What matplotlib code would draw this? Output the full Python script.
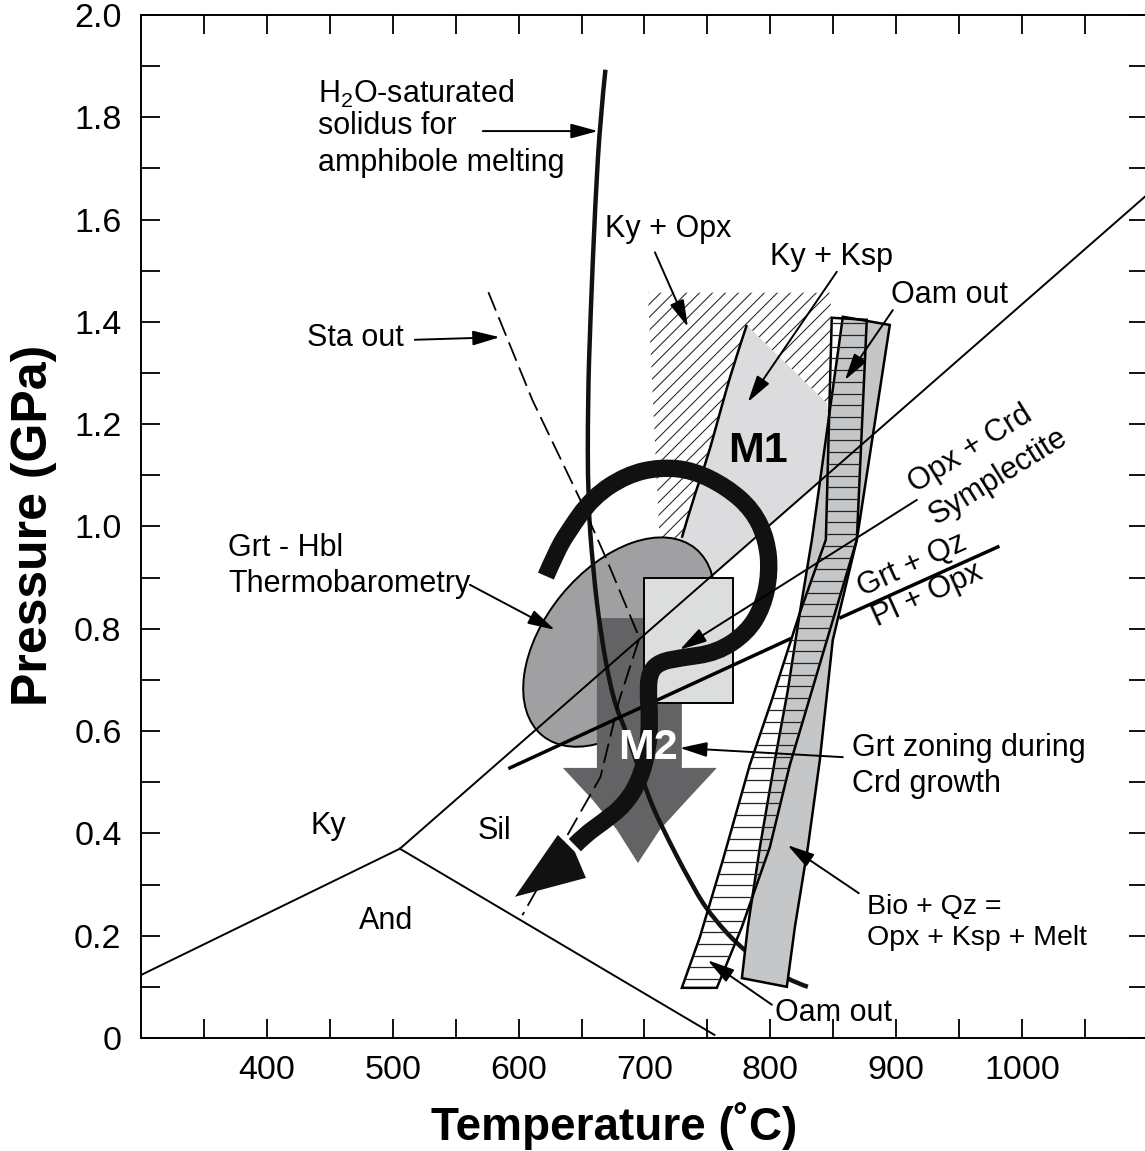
#!/usr/bin/env python3
"""
P-T 图: M1 -> M2 路径与反应线
"""
import numpy as np
import matplotlib
matplotlib.use('Agg')
import matplotlib.pyplot as plt
from matplotlib import transforms
from matplotlib.path import Path
from matplotlib.patches import Polygon, Rectangle, Ellipse, PathPatch
from matplotlib.ticker import FixedLocator, FuncFormatter

plt.rcParams['font.family'] = ['Liberation Sans', 'DejaVu Sans']
plt.rcParams['mathtext.default'] = 'regular'

# ---- 坐标范围 / 刻度 ----
T_MIN, T_MAX = 300, 1100
P_MIN, P_MAX = 0.0, 2.0
x_major = [400, 500, 600, 700, 800, 900, 1000]
x_minor = [350, 450, 550, 650, 750, 850, 950, 1050]
y_major = [0.0, 0.2, 0.4, 0.6, 0.8, 1.0, 1.2, 1.4, 1.6, 1.8, 2.0]
y_minor = [0.1, 0.3, 0.5, 0.7, 0.9, 1.1, 1.3, 1.5, 1.7, 1.9]

# ---- 数据 (T in C, P in GPa) ----
# Al2SiO5
ky_and_T = [300, 505.7]
ky_and_P = [0.123, 0.370]
and_sil_T = [505.7, 755.6]
and_sil_P = [0.370, 0.006]
ky_sil_T = [505.7, 1100]
ky_sil_P = [0.370, 1.650]

# H2O-saturated solidus
solidus_T = [669, 665, 661, 657, 655, 655, 659, 665, 675, 686, 702, 712.2, 738.4,
             753.5, 779.7, 813.9, 829.8]
solidus_P = [1.893, 1.800, 1.638, 1.404, 1.247, 1.052, 0.920, 0.792, 0.661, 0.596,
             0.479, 0.420, 0.295, 0.237, 0.168, 0.113, 0.100]

# Sta out
sta_T = [576, 611, 649, 670, 696, 680, 665, 638, 603]
sta_P = [1.458, 1.247, 1.052, 0.935, 0.782, 0.661, 0.510, 0.393, 0.240]

# Grt + Qz = Pl + Opx (两段, 中间被带遮住)
grt_qz_T1 = [593.1, 815.5]
grt_qz_P1 = [0.528, 0.780]
grt_qz_T2 = [856.0, 980.7]
grt_qz_P2 = [0.822, 0.960]

# Ky + Opx 斜线区
kyopx_T = [702.7, 848.0, 848.0, 736.1, 712.2]
kyopx_P = [1.457, 1.457, 1.110, 0.935, 0.964]

# M1 区
m1_T = [781.3, 844.9, 851.2, 744.0, 721.8, 728.1, 738.4, 759.9]
m1_P = [1.394, 1.241, 1.110, 0.880, 0.935, 0.974, 1.052, 1.222]
m1_edge_T = [781.3, 770.2, 759.9, 749.6, 738.4, 729.7]
m1_edge_P = [1.394, 1.312, 1.222, 1.130, 1.052, 0.978]

# Grt - Hbl 椭圆 (中心, 半轴以 C 计, 角度)
ell_T, ell_P = 679.7, 0.774
ell_a, ell_b, ell_angle = 96.0, 59.0, 50.7

# M2 下降箭头
m2_T = [662.2, 729.7, 729.7, 757.5, 733.7, 712.2, 694.8, 678.1, 659.0, 635.2, 662.2]
m2_P = [0.821, 0.821, 0.528, 0.528, 0.465, 0.407, 0.342, 0.407, 0.465, 0.528, 0.528]

# Opx + Crd 后成合晶框
sym_T = [699.5, 770.2]
sym_P = [0.655, 0.899]

# Bio + Qz = Opx + Ksp + Melt 灰带
bio_T = [857.6, 894.9, 868.7, 849.6, 839.3, 829.8, 819.5, 813.1,
         777.4, 782.1, 791.7, 803.6, 813.9, 823.4, 833.0]
bio_P = [1.410, 1.394, 0.974, 0.778, 0.543, 0.373, 0.217, 0.100,
         0.117, 0.217, 0.373, 0.543, 0.680, 0.831, 0.974]

# Oam out 横线带
oam_T = [848.8, 844.1, 823.4, 801.2, 783.7, 762.3, 744.0, 729.7,
         757.5, 777.4, 799.6, 815.5, 850.4, 868.7, 876.6]
oam_P = [1.408, 0.974, 0.831, 0.661, 0.534, 0.348, 0.197, 0.098,
         0.098, 0.217, 0.373, 0.534, 0.823, 0.974, 1.404]

# P-T 路径
path_T = [621.7, 629.6, 638.4, 659.0, 686.0, 712.2, 738.4, 765.4, 786.1, 797.2, 799.6,
          794.0, 781.3, 757.5, 728.1, 712.2, 704.3, 702.7, 704.3, 702.7, 696.3, 684.4,
          667.0, 652.7, 644.7]
path_P = [0.903, 0.948, 0.987, 1.058, 1.101, 1.116, 1.110, 1.077, 1.032, 0.974, 0.909,
          0.843, 0.792, 0.753, 0.743, 0.735, 0.716, 0.680, 0.622, 0.563, 0.504, 0.456,
          0.422, 0.397, 0.377]
head_T = [597.1, 631.2, 644.7, 653.5]
head_P = [0.276, 0.397, 0.364, 0.313]

# 指示箭头 (起点 -> 终点)
arr_T0 = [571.6, 517.6, 708.3, 852.8, 897.3, 561.3, 916.4, 857.6, 870.3, 801.2]
arr_P0 = [1.773, 1.365, 1.536, 1.498, 1.423, 0.886, 1.052, 0.549, 0.283, 0.065]
arr_T1 = [663.0, 585.1, 734.5, 782.1, 859.2, 628.8, 728.1, 728.1, 813.7, 750.2]
arr_P1 = [1.773, 1.370, 1.390, 1.243, 1.286, 0.798, 0.759, 0.567, 0.377, 0.152]

# 文字标签
lab_text = ['H$_2$O-saturated', 'solidus for', 'amphibole melting',
            'Grt - Hbl', 'Thermobarometry', 'Grt zoning during', 'Crd growth']
lab_T = [440.6, 440.6, 440.6, 369.1, 369.1, 864.7, 864.7]
lab_P = [1.846, 1.782, 1.710, 0.958, 0.888, 0.567, 0.497]

ctr_text = ['Sta out', 'Ky + Opx', 'Ky + Ksp', 'Oam out', 'Oam out', 'Ky', 'Sil', 'And']
ctr_T = [470.4, 718.6, 848.8, 942.6, 850.2, 448.5, 581.2, 494.6]
ctr_P = [1.369, 1.581, 1.527, 1.453, 0.049, 0.414, 0.405, 0.229]

bio_text = ['Bio + Qz =', 'Opx + Ksp + Melt']
bio_lab_T = [877.1, 877.1]
bio_lab_P = [0.256, 0.196]

rot_text = ['Opx + Crd', 'Symplectite', 'Grt + Qz', 'Pl + Opx']
rot_T = [958.5, 980.7, 912.4, 925.1]
rot_P = [1.150, 1.097, 0.925, 0.866]
rot_angle = [32, 32, 24.4, 24.4]


def smooth_curve(ts, ps):
    """用二次贝塞尔把折线点连成平滑曲线"""
    pts = np.column_stack([ts, ps])
    verts, codes = [pts[0]], [Path.MOVETO]
    n = len(pts)
    for i in range(1, n - 1):
        end = pts[i + 1] if i == n - 2 else (pts[i] + pts[i + 1]) / 2
        verts += [pts[i], end]
        codes += [Path.CURVE3, Path.CURVE3]
    return Path(verts, codes)


fig = plt.figure(figsize=(11.45, 11.51), dpi=100)
ax = fig.add_axes([0.1231, 0.0982, 0.8795, 0.8888])
ax.set_xlim(T_MIN, T_MAX)
ax.set_ylim(P_MIN, P_MAX)

# 像素比例 (用于 45 度斜线和椭圆)
fw, fh = fig.get_size_inches() * fig.dpi
pos = ax.get_position()
ks = (pos.height * fh / (P_MAX - P_MIN)) / (pos.width * fw / (T_MAX - T_MIN))

# 1. Ky + Opx 斜线
kyopx = Polygon(np.column_stack([kyopx_T, kyopx_P]), closed=True, fill=False, lw=0)
ax.add_patch(kyopx)
t_span = np.array([650, 900])
for c in np.arange(90, 490, 10.3):
    ln, = ax.plot(t_span, (t_span - c) / ks, color='#222222', lw=0.75, zorder=1)
    ln.set_clip_path(kyopx)

# 2. M1
ax.add_patch(Polygon(np.column_stack([m1_T, m1_P]), closed=True,
                     facecolor='#dcdcde', lw=0, zorder=2))
ax.add_patch(PathPatch(smooth_curve(m1_edge_T, m1_edge_P), fill=False,
                       edgecolor='k', lw=1.8, zorder=9))

# 3. Grt - Hbl 椭圆
scale = transforms.Affine2D().scale(1.0, 1.0 / ks)
ax.add_patch(Ellipse((ell_T, ell_P * ks), 2 * ell_a, 2 * ell_b, angle=ell_angle,
                     transform=scale + ax.transData,
                     facecolor='#a0a0a2', edgecolor='k', lw=1.4, zorder=3))

# 4. M2 箭头
ax.add_patch(Polygon(np.column_stack([m2_T, m2_P]), closed=True,
                     facecolor='#636365', lw=0, zorder=4))

# 5. 后成合晶框
ax.add_patch(Rectangle((sym_T[0], sym_P[0]), sym_T[1] - sym_T[0], sym_P[1] - sym_P[0],
                       facecolor='#dcdddd', edgecolor='k', lw=1.4, zorder=5))

# 6. 固相线
ax.add_patch(PathPatch(smooth_curve(solidus_T, solidus_P), fill=False,
                       edgecolor='#111111', lw=3.2, capstyle='butt', zorder=6))

# 7. Bio + Qz 灰带
ax.add_patch(Polygon(np.column_stack([bio_T, bio_P]), closed=True,
                     facecolor='#c5c6c8', edgecolor='k', lw=1.8, zorder=7))

# 8. Oam out 横线带
oam = Polygon(np.column_stack([oam_T, oam_P]), closed=True,
              fill=False, edgecolor='k', lw=1.8, zorder=8)
ax.add_patch(oam)
for p in np.arange(0.092, 1.42, 0.0229):
    ln, = ax.plot([700, 900], [p, p], color='#222222', lw=0.9, zorder=8)
    ln.set_clip_path(oam)

# 9. 细线
ax.plot(ky_and_T, ky_and_P, color='k', lw=1.4, zorder=9)
ax.plot(and_sil_T, and_sil_P, color='k', lw=1.4, zorder=9)
ax.plot(ky_sil_T, ky_sil_P, color='k', lw=1.4, zorder=9)
ax.plot(sta_T, sta_P, color='k', lw=1.3, linestyle=(0, (11, 4)), zorder=9)
ax.plot(grt_qz_T1, grt_qz_P1, color='k', lw=2.5, zorder=9)
ax.plot(grt_qz_T2, grt_qz_P2, color='k', lw=2.5, zorder=9)

# 10. P-T 路径
ax.add_patch(PathPatch(smooth_curve(path_T, path_P), fill=False, edgecolor='#111111',
                       lw=12.5, capstyle='butt', joinstyle='round', zorder=10))
ax.add_patch(Polygon(np.column_stack([head_T, head_P]), closed=True,
                     facecolor='#111111', lw=0, zorder=10))

# 11. 指示箭头
for t0, p0, t1, p1 in zip(arr_T0, arr_P0, arr_T1, arr_P1):
    ax.annotate('', xy=(t1, p1), xytext=(t0, p0), zorder=11,
                arrowprops=dict(arrowstyle='-|>,head_length=1.65,head_width=0.45',
                                mutation_scale=10, lw=1.4, color='k',
                                shrinkA=0, shrinkB=0))

# 12. 文字
for s, t, p in zip(lab_text, lab_T, lab_P):
    ax.text(t, p, s, fontsize=22, ha='left', va='center', zorder=12)
for s, t, p in zip(ctr_text, ctr_T, ctr_P):
    ax.text(t, p, s, fontsize=22, ha='center', va='center', zorder=12)
for s, t, p in zip(bio_text, bio_lab_T, bio_lab_P):
    ax.text(t, p, s, fontsize=20.5, ha='left', va='center', zorder=12)
for s, t, p, a in zip(rot_text, rot_T, rot_P, rot_angle):
    ax.text(t, p, s, fontsize=22, ha='center', va='center', rotation=a,
            rotation_mode='anchor', zorder=12)
ax.text(790.1, 1.148, 'M1', fontsize=31, fontweight='bold', ha='center', va='center', zorder=12)
ax.text(702.7, 0.567, 'M2', fontsize=31, fontweight='bold', color='white',
        ha='center', va='center', zorder=12)

# 坐标轴
ax.xaxis.set_major_locator(FixedLocator(x_major))
ax.xaxis.set_minor_locator(FixedLocator(x_minor))
ax.yaxis.set_major_locator(FixedLocator(y_major))
ax.yaxis.set_minor_locator(FixedLocator(y_minor))
ax.yaxis.set_major_formatter(FuncFormatter(lambda v, _: '0' if abs(v) < 1e-9 else f'{v:.1f}'))
ax.tick_params(which='both', direction='in', length=14, width=1.3,
               top=True, right=True, labelsize=24.5)
ax.tick_params(axis='x', pad=12)
ax.tick_params(axis='y', pad=14)
for sp in ax.spines.values():
    sp.set_linewidth(1.4)

ax.set_xlabel('Temperature (˚C)', fontsize=33, fontweight='bold', va='center')
ax.xaxis.set_label_coords(0.4697, -0.086)
ax.set_ylabel('Pressure (GPa)', fontsize=36, fontweight='bold', va='center')
ax.yaxis.set_label_coords(-0.1063, 0.5015)

fig.savefig('out.png', dpi=100)
